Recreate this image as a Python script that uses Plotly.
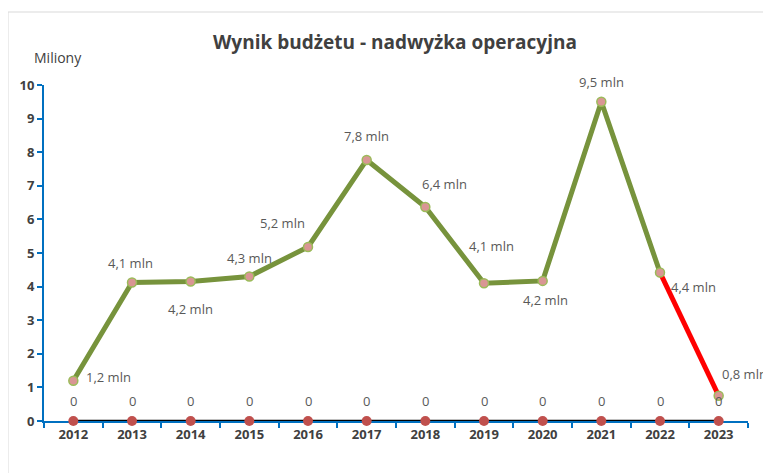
import plotly.graph_objects as go

years = ["2012", "2013", "2014", "2015", "2016", "2017", "2018", "2019", "2020", "2021", "2022", "2023"]
values = [1.2, 4.12, 4.15, 4.3, 5.18, 7.77, 6.37, 4.1, 4.17, 9.5, 4.42, 0.75]
value_labels = ["1,2 mln", "4,1 mln", "4,2 mln", "4,3 mln", "5,2 mln", "7,8 mln",
                "6,4 mln", "4,1 mln", "4,2 mln", "9,5 mln", "4,4 mln", "0,8 mln"]
zeros = [0] * 12
zero_labels = ["0"] * 12

# label offsets (pixels) for the value labels
label_shift = [(35, 4), (-2, 20), (0, -27), (0, 19), (-26, 24), (0, 24),
               (19, 23), (7, 37), (3, -19), (0, 20), (33, -15), (26, 22)]

OFF = 8  # page body margin
W, H = 771, 473
L, T = 44 - OFF, 85 - OFF
pw, ph = 704, 336
R, B = W - L - pw, H - T - ph
FONT = "Open Sans"

fig = go.Figure()

# zero series
fig.add_trace(go.Scatter(
    x=years, y=zeros, mode="lines+markers",
    line=dict(color="#000000", width=2.5),
    marker=dict(color="#C0504D", size=10),
    cliponaxis=False, hoverinfo="skip", showlegend=False))

# green part
fig.add_trace(go.Scatter(
    x=years[:11], y=values[:11], mode="lines",
    line=dict(color="#77933C", width=5),
    cliponaxis=False, showlegend=False))
# red part
fig.add_trace(go.Scatter(
    x=years[10:], y=values[10:], mode="lines",
    line=dict(color="#FF0000", width=5),
    cliponaxis=False, showlegend=False))
# markers
fig.add_trace(go.Scatter(
    x=years, y=values, mode="markers",
    marker=dict(color="#D99694", size=9, line=dict(color="#9BBB59", width=1.5)),
    cliponaxis=False, showlegend=False))

annotations = []
for i, (v, t, (dx, dy)) in enumerate(zip(values, value_labels, label_shift)):
    annotations.append(dict(xref="x", yref="y", x=i, y=v, text=t, showarrow=False,
                            xshift=dx, yshift=dy,
                            font=dict(family=FONT, size=13, color="#595959")))
for i, (z, t) in enumerate(zip(zeros, zero_labels)):
    annotations.append(dict(xref="x", yref="y", x=i, y=z, text=t, showarrow=False,
                            xshift=0, yshift=20,
                            font=dict(family=FONT, size=13, color="#595959")))

def px(xp):
    return (xp - OFF - L) / pw
def py(yp):
    return (T + ph - (yp - OFF)) / ph

annotations.append(dict(xref="paper", yref="paper", x=px(395), y=py(42),
                        text="<b>Wynik budżetu - nadwyżka operacyjna</b>",
                        showarrow=False, xanchor="center", yanchor="middle",
                        font=dict(family=FONT, size=19, color="#404040")))
annotations.append(dict(xref="paper", yref="paper", x=px(58), y=py(57), text="Miliony",
                        showarrow=False, xanchor="center", yanchor="middle",
                        font=dict(family=FONT, size=14, color="#404040")))

fig.update_layout(
    width=W, height=H,
    margin=dict(l=L, r=R, t=T, b=B, pad=0),
    paper_bgcolor="white", plot_bgcolor="white",
    annotations=annotations,
    shapes=[dict(type="rect", xref="paper", yref="paper",
                 x0=px(8), x1=px(800), y0=py(500), y1=py(12),
                 line=dict(color="#D9D9D9", width=1), layer="below")],
    xaxis=dict(type="category", range=[-0.5, 11.5], showgrid=False, zeroline=False,
               showline=True, linecolor="#0070C0", linewidth=2, layer="below traces",
               ticks="outside", tickson="boundaries", ticklen=5, tickwidth=2, tickcolor="#0070C0",
               tickfont=dict(family=FONT, size=13, color="#404040", weight="bold")),
    yaxis=dict(range=[0, 10], dtick=1, showgrid=False, zeroline=False,
               showline=True, linecolor="#0070C0", linewidth=2, layer="below traces",
               ticks="outside", ticklen=5, tickwidth=2, tickcolor="#0070C0",
               tickfont=dict(family=FONT, size=13, color="#404040", weight="bold")),
)

fig.write_html("out.html")
